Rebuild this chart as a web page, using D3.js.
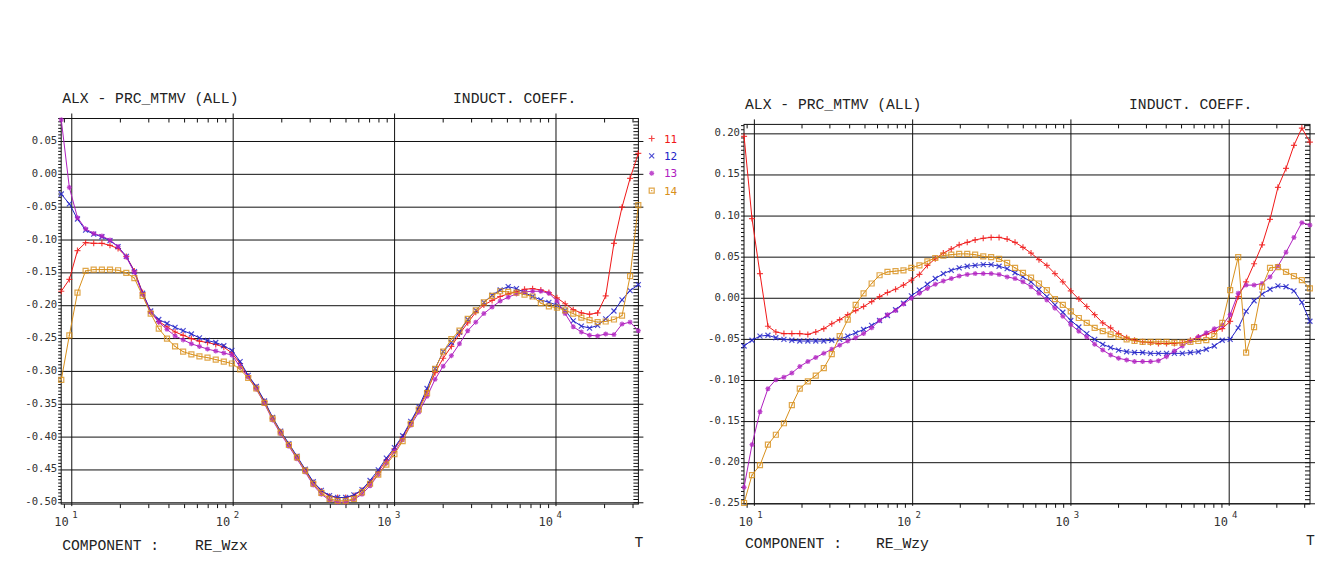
<!DOCTYPE html>
<meta charset="utf-8">
<style>
body{margin:0;background:#fff;}
text{font-family:"Liberation Mono",monospace;fill:#222;}
.tit{font-size:14.7px;}
.ylab{font-family:"DejaVu Sans Mono",monospace;font-size:10.6px;text-anchor:end;fill:#333;}
.xlab{font-family:"DejaVu Sans Mono",monospace;font-size:12px;fill:#333;}
.xsup{font-family:"DejaVu Sans Mono",monospace;font-size:9px;fill:#333;}
.leg{font-family:"DejaVu Sans Mono",monospace;font-size:11px;}
.grid,.tk{stroke:#111;stroke-width:1;}
.frame{stroke:#111;fill:none;}
.serie{fill:none;stroke-width:1;}
.mk{fill:none;stroke-width:1.2;opacity:0.8;}
</style>
<body>
<script src="https://cdn.jsdelivr.net/npm/d3@7"></script>
<script>

// periods (s), shared by every series
var periods=[8.61,9.66,10.85,12.18,13.67,15.37,17.25,19.36,21.77,24.43,27.46,30.83,34.59,38.90,43.65,48.98,55.08,61.80,69.34,77.98,
87.50,98.17,110.4,123.9,139.0,156.3,175.4,196.8,221.3,248.3,279.3,313.3,351.6,395.4,443.6,497.7,559.8,628.1,704.7,792.5,
889.2,997.7,1122,1259,1413,1589,1782,2000,2249,2523,2838,3184,3573,4018,4508,5058,5689,6383,7161,8054,
9036,10140,11400,12790,14360,16140,18110,20320,22860,25650,28780,32360];

// RE_Wzx
var wzx11=[-0.178,-0.160,-0.116,-0.104,-0.105,-0.105,-0.108,-0.113,-0.125,-0.147,-0.180,-0.209,-0.224,-0.232,-0.240,-0.245,-0.250,-0.254,-0.256,-0.259,
-0.263,-0.272,-0.288,-0.307,-0.324,-0.346,-0.371,-0.392,-0.411,-0.430,-0.450,-0.469,-0.482,-0.490,-0.492,-0.492,-0.489,-0.481,-0.469,-0.453,
-0.435,-0.418,-0.400,-0.378,-0.356,-0.330,-0.302,-0.280,-0.262,-0.243,-0.226,-0.210,-0.199,-0.192,-0.186,-0.182,-0.179,-0.175,-0.174,-0.176,
-0.180,-0.188,-0.197,-0.206,-0.211,-0.213,-0.211,-0.185,-0.105,-0.050,-0.006,0.032];
var wzx12=[-0.030,-0.045,-0.068,-0.085,-0.091,-0.095,-0.101,-0.110,-0.125,-0.148,-0.181,-0.208,-0.221,-0.227,-0.233,-0.238,-0.243,-0.249,-0.253,-0.256,
-0.261,-0.268,-0.285,-0.306,-0.323,-0.345,-0.370,-0.391,-0.410,-0.429,-0.449,-0.468,-0.481,-0.489,-0.492,-0.492,-0.488,-0.480,-0.466,-0.450,
-0.432,-0.416,-0.398,-0.376,-0.354,-0.326,-0.296,-0.270,-0.256,-0.240,-0.221,-0.207,-0.195,-0.184,-0.176,-0.171,-0.174,-0.180,-0.186,-0.191,
-0.195,-0.199,-0.207,-0.223,-0.231,-0.234,-0.230,-0.220,-0.208,-0.191,-0.177,-0.168];
var wzx13=[0.083,-0.020,-0.066,-0.083,-0.090,-0.094,-0.100,-0.110,-0.126,-0.149,-0.183,-0.210,-0.225,-0.236,-0.246,-0.252,-0.258,-0.262,-0.266,-0.269,
-0.272,-0.275,-0.293,-0.309,-0.327,-0.349,-0.374,-0.395,-0.414,-0.433,-0.453,-0.473,-0.487,-0.496,-0.499,-0.499,-0.495,-0.487,-0.474,-0.457,
-0.440,-0.422,-0.404,-0.382,-0.362,-0.338,-0.312,-0.292,-0.276,-0.258,-0.238,-0.225,-0.212,-0.202,-0.193,-0.187,-0.182,-0.179,-0.178,-0.178,
-0.181,-0.193,-0.212,-0.232,-0.240,-0.245,-0.246,-0.243,-0.244,-0.228,-0.225,-0.238];
var wzx14=[-0.313,-0.245,-0.180,-0.147,-0.145,-0.145,-0.145,-0.146,-0.150,-0.158,-0.185,-0.212,-0.235,-0.250,-0.262,-0.270,-0.274,-0.277,-0.279,-0.282,
-0.285,-0.288,-0.297,-0.310,-0.326,-0.348,-0.372,-0.393,-0.412,-0.431,-0.451,-0.471,-0.485,-0.494,-0.497,-0.497,-0.494,-0.484,-0.471,-0.457,
-0.442,-0.426,-0.406,-0.380,-0.358,-0.333,-0.296,-0.270,-0.251,-0.238,-0.220,-0.207,-0.195,-0.185,-0.178,-0.179,-0.180,-0.183,-0.186,-0.196,
-0.201,-0.203,-0.207,-0.212,-0.218,-0.222,-0.225,-0.224,-0.221,-0.215,-0.155,-0.047];

// RE_Wzy
var wzy11=[0.197,0.097,0.030,-0.034,-0.041,-0.043,-0.043,-0.043,-0.044,-0.041,-0.037,-0.031,-0.026,-0.020,-0.015,-0.010,-0.004,0.002,0.007,0.011,
0.016,0.022,0.029,0.040,0.048,0.055,0.060,0.065,0.068,0.071,0.073,0.074,0.074,0.072,0.068,0.062,0.055,0.047,0.040,0.030,
0.020,0.009,-0.001,-0.010,-0.020,-0.030,-0.036,-0.043,-0.048,-0.051,-0.053,-0.054,-0.055,-0.055,-0.055,-0.054,-0.051,-0.047,-0.044,-0.040,
-0.037,-0.028,0.002,0.020,0.042,0.065,0.096,0.135,0.158,0.186,0.207,0.190];
var wzy12=[-0.058,-0.051,-0.046,-0.045,-0.048,-0.050,-0.051,-0.052,-0.052,-0.052,-0.052,-0.051,-0.050,-0.046,-0.042,-0.038,-0.033,-0.027,-0.021,-0.014,
-0.006,0.003,0.010,0.017,0.024,0.030,0.034,0.037,0.039,0.040,0.041,0.041,0.039,0.036,0.031,0.026,0.020,0.011,0.002,-0.008,
-0.017,-0.027,-0.035,-0.043,-0.050,-0.056,-0.060,-0.063,-0.065,-0.066,-0.066,-0.067,-0.067,-0.067,-0.067,-0.067,-0.066,-0.065,-0.062,-0.058,
-0.051,-0.050,-0.036,-0.016,-0.003,0.005,0.011,0.015,0.014,0.009,-0.005,-0.028];
var wzy13=[-0.230,-0.178,-0.138,-0.110,-0.099,-0.096,-0.091,-0.083,-0.077,-0.072,-0.067,-0.062,-0.057,-0.052,-0.048,-0.043,-0.036,-0.027,-0.020,-0.015,
-0.007,0.000,0.006,0.012,0.017,0.021,0.024,0.027,0.029,0.030,0.030,0.030,0.029,0.026,0.024,0.020,0.014,0.006,-0.002,-0.012,
-0.022,-0.032,-0.040,-0.047,-0.056,-0.063,-0.069,-0.073,-0.075,-0.077,-0.077,-0.077,-0.076,-0.071,-0.064,-0.058,-0.052,-0.047,-0.042,-0.037,
-0.033,-0.020,0.006,0.016,0.016,0.018,0.026,0.039,0.056,0.074,0.092,0.089];
var wzy14=[-0.249,-0.215,-0.203,-0.178,-0.166,-0.152,-0.130,-0.110,-0.101,-0.094,-0.085,-0.068,-0.046,-0.026,-0.008,0.006,0.018,0.028,0.032,0.033,
0.034,0.037,0.040,0.045,0.049,0.052,0.053,0.054,0.054,0.053,0.051,0.050,0.048,0.043,0.037,0.031,0.025,0.018,0.010,-0.001,
-0.008,-0.016,-0.024,-0.030,-0.036,-0.040,-0.044,-0.047,-0.050,-0.052,-0.053,-0.053,-0.053,-0.053,-0.054,-0.054,-0.053,-0.052,-0.051,-0.046,
-0.030,0.010,0.050,-0.066,-0.035,0.014,0.037,0.038,0.032,0.027,0.022,0.012];

var seriesNames=["11","12","13","14"];
var seriesColors=["#f01818","#2222c8","#b020c0","#d8901c"];
var wzxTicks=[0.05,0.00,-0.05,-0.10,-0.15,-0.20,-0.25,-0.30,-0.35,-0.40,-0.45,-0.50];
var wzyTicks=[0.20,0.15,0.10,0.05,0.00,-0.05,-0.10,-0.15,-0.20,-0.25];
var decades=[10,100,1000,10000];
var decadeExp=["1","2","3","4"];

var markers=[
	"M-3,0H3M0,-3V3",
	"M-2.5,-2.5L2.5,2.5M-2.5,2.5L2.5,-2.5",
	"M-2.5,0H2.5M0,-2.5V2.5M-1.8,-1.8L1.8,1.8M-1.8,1.8L1.8,-1.8",
	"M-2.5,-2.5H2.5V2.5H-2.5ZM-0.7,0H0.7"
];

var svg=d3.select("body").append("svg").attr("width",1318).attr("height",568);

function panel(o){
	var x=d3.scaleLog().domain([8.6,32400]).range([o.x0,o.x1]);
	var y=d3.scaleLinear().domain(o.ydom).range([o.yb,o.yt]);
	var g=svg.append("g");

	// horizontal grid + labels
	o.ticks.forEach(function(t){
		g.append("line").attr("class","grid").attr("x1",o.x0).attr("x2",o.x1+5).attr("y1",y(t)).attr("y2",y(t));
		g.append("text").attr("class","ylab").attr("x",o.x0-4).attr("y",y(t)+2.5).text(t.toFixed(2));
	});
	// minor y ticks
	d3.range(o.ydom[0],o.ydom[1],0.005).forEach(function(t){
		var v=Math.round(t/0.005)*0.005;
		if(v<o.ydom[0]||v>o.ydom[1]) return;
		g.append("line").attr("class","tk").attr("x1",o.x0-3).attr("x2",o.x0).attr("y1",y(v)).attr("y2",y(v));
		g.append("line").attr("class","tk").attr("x1",o.x1-5).attr("x2",o.x1).attr("y1",y(v)).attr("y2",y(v));
	});
	// vertical decade grid + labels
	decades.forEach(function(d,i){
		g.append("line").attr("class","grid").attr("x1",x(d)).attr("x2",x(d)).attr("y1",o.yt-5).attr("y2",o.yb+2);
		g.append("text").attr("class","xlab").attr("x",x(d)+o.lx).attr("y",o.yb+22).attr("text-anchor","end").text("10");
		g.append("text").attr("class","xsup").attr("x",x(d)+o.sx).attr("y",o.yb+14).text(decadeExp[i]);
	});
	// minor x ticks
	x.ticks().filter(function(t){return decades.indexOf(t)<0;}).forEach(function(t){
		g.append("line").attr("class","tk").attr("x1",x(t)).attr("x2",x(t)).attr("y1",o.yt).attr("y2",o.yt+4);
		g.append("line").attr("class","tk").attr("x1",x(t)).attr("x2",x(t)).attr("y1",o.yb).attr("y2",o.yb+4);
	});
	g.append("rect").attr("class","frame").attr("x",o.x0).attr("y",o.yt).attr("width",o.x1-o.x0).attr("height",o.yb-o.yt);

	// series
	var line=d3.line().x(function(d,i){return x(periods[i]);}).y(function(d){return y(d);});
	o.series.forEach(function(s,k){
		g.append("path").attr("class","serie").attr("d",line(s)).attr("stroke",seriesColors[k]);
		g.selectAll(null).data(s).enter().append("path").attr("class","mk")
			.attr("d",markers[k]).attr("stroke",seriesColors[k])
			.attr("transform",function(d,i){return "translate("+x(periods[i])+","+y(d)+")";});
	});

	// texts
	g.append("text").attr("class","tit").attr("x",o.x0+1).attr("y",o.ty).text("ALX - PRC_MTMV (ALL)");
	g.append("text").attr("class","tit").attr("x",o.ix).attr("y",o.ty).text("INDUCT. COEFF.");
	g.append("text").attr("class","tit").attr("x",o.x0+1).attr("y",o.cy).text("COMPONENT :");
	g.append("text").attr("class","tit").attr("x",o.cx).attr("y",o.cy).text(o.comp);
	g.append("text").attr("class","tit").attr("x",o.x1-4).attr("y",o.cy-3).text("T");

	if(o.legend){
		seriesNames.forEach(function(n,k){
			var ly=138.5+17.4*k;
			g.append("path").attr("class","mk").attr("d",markers[k]).attr("stroke",seriesColors[k])
				.attr("transform","translate(651.7,"+ly+")");
			g.append("text").attr("class","leg").attr("x",664).attr("y",ly+4).style("fill",seriesColors[k]).text(n);
		});
	}
}

panel({x0:61.2,x1:638.4,yt:118.5,yb:504.1,ydom:[-0.502,0.085],ticks:wzxTicks,
	series:[wzx11,wzx12,wzx13,wzx14],comp:"RE_Wzx",ty:103,ix:453,cy:550,cx:195,lx:-3,sx:0.5,legend:true});
panel({x0:744,x1:1310,yt:124.4,yb:503.8,ydom:[-0.250,0.2115],ticks:wzyTicks,
	series:[wzy11,wzy12,wzy13,wzy14],comp:"RE_Wzy",ty:109,ix:1129,cy:548,cx:876,lx:-1.3,sx:2.8,legend:false});

</script>
</body>
</html>
